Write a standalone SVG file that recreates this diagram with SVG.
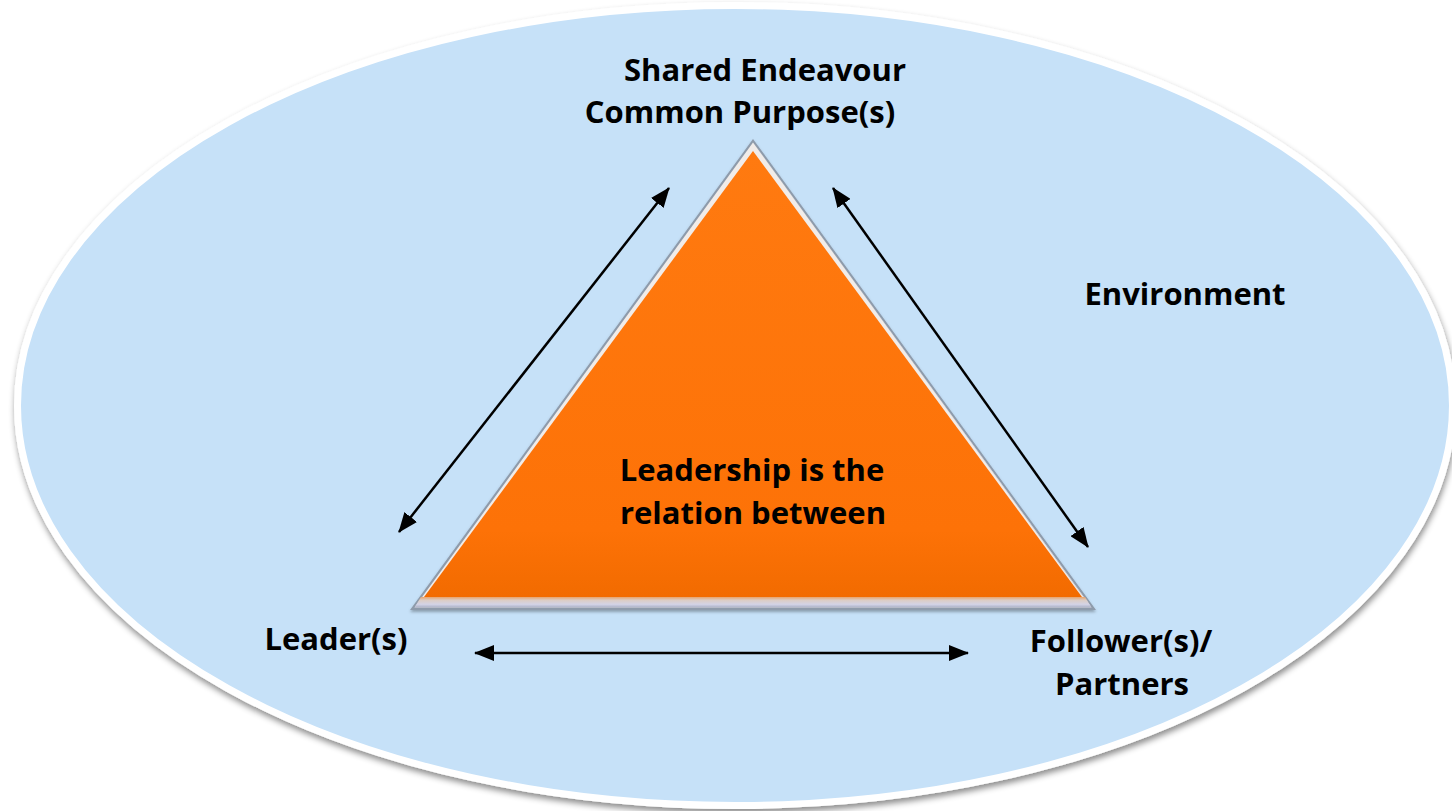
<svg xmlns="http://www.w3.org/2000/svg" width="1452" height="811" viewBox="0 0 1452 811">
  <defs>
    <filter id="shadow" x="-5%" y="-5%" width="110%" height="115%">
      <feDropShadow dx="1" dy="4" stdDeviation="3" flood-color="#000" flood-opacity="0.45"/>
    </filter>
    <filter id="tshadow" x="-5%" y="-5%" width="110%" height="110%">
      <feDropShadow dx="0" dy="2" stdDeviation="1.5" flood-color="#000" flood-opacity="0.3"/>
    </filter>
    <linearGradient id="orange" x1="0" y1="0" x2="0" y2="1">
      <stop offset="0" stop-color="#ff7a10"/>
      <stop offset="0.85" stop-color="#fd7207"/>
      <stop offset="1" stop-color="#f26b00"/>
    </linearGradient>
    <linearGradient id="base" x1="0" y1="0" x2="0" y2="1">
      <stop offset="0" stop-color="#e8a36c"/>
      <stop offset="0.3" stop-color="#dccdc4"/>
      <stop offset="0.7" stop-color="#d3d3e6"/>
      <stop offset="1" stop-color="#aab1c6"/>
    </linearGradient>
    <marker id="ah" viewBox="0 0 20 16" refX="19" refY="8" markerWidth="20" markerHeight="16" markerUnits="userSpaceOnUse" orient="auto-start-reverse">
      <path d="M0,0 L20,8 L0,16 Z" fill="#000"/>
    </marker>
    <style>
      .lbl { font-family: "Open Sans", "Noto Sans", "DejaVu Sans", sans-serif; font-weight: 700; font-size: 31px; fill: #000; text-anchor: middle; }
      .conn { stroke: #000; stroke-width: 2.5; fill: none; marker-start: url(#ah); marker-end: url(#ah); }
    </style>
  </defs>

  <rect x="0" y="0" width="1452" height="811" fill="#ffffff"/>

  <g id="environment">
    <ellipse cx="735" cy="405.5" rx="717.5" ry="400" fill="#c6e1f8" stroke="#ffffff" stroke-width="7" filter="url(#shadow)"/>
    <text class="lbl" x="1185" y="305">Environment</text>
  </g>

  <g id="triangle">
    <polygon points="753,139 410,610 1096,610" fill="#8e9bab" filter="url(#tshadow)"/>
    <polygon points="753,142.5 414.5,607.5 1091.5,607.5" fill="#f1ece9"/>
    <polygon points="753,142.5 1091.5,607.5 1089,605" fill="#c9ccd4"/>
    <polygon points="421,597 1085,597 1091.5,607.5 414.5,607.5" fill="url(#base)"/>
    <polygon points="753,151 424,597 1082,597" fill="url(#orange)"/>
    <text class="lbl" x="752" y="481">Leadership is the</text>
    <text class="lbl" x="753" y="524">relation between</text>
  </g>

  <g id="shared-endeavour">
    <text class="lbl" x="765" y="81">Shared Endeavour</text>
    <text class="lbl" x="740" y="123">Common Purpose(s)</text>
  </g>

  <g id="leaders">
    <text class="lbl" x="336" y="650">Leader(s)</text>
  </g>

  <g id="followers">
    <text class="lbl" x="1121" y="652">Follower(s)/</text>
    <text class="lbl" x="1122" y="695">Partners</text>
  </g>

  <g id="connectors">
    <line class="conn" x1="399" y1="532" x2="669" y2="188"/>
    <line class="conn" x1="833" y1="188" x2="1088" y2="547"/>
    <line class="conn" x1="475" y1="653" x2="968" y2="653"/>
  </g>
</svg>
